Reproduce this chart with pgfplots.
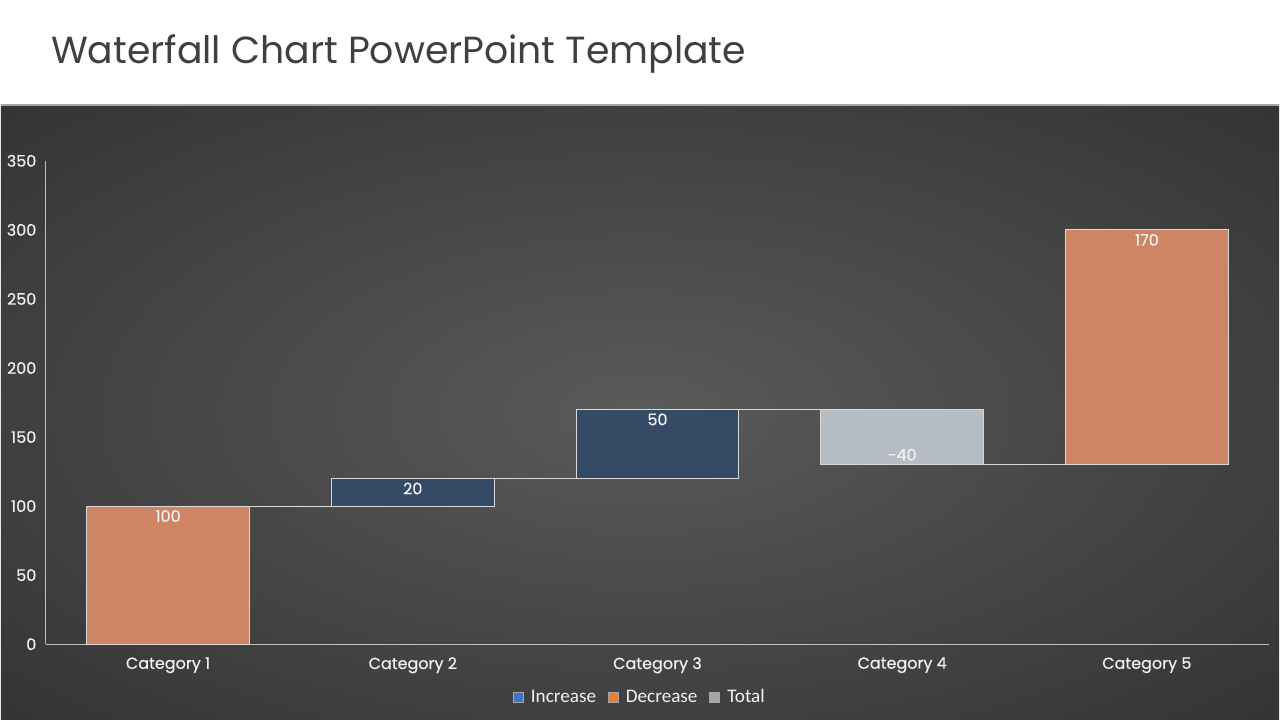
\documentclass[border=0pt]{standalone}
\usepackage{fontspec}
\usepackage{pgfplots}
\pgfplotsset{compat=1.18}
\setmainfont{Poppins}
\newfontfamily\medfont{Poppins}[FakeBold=0.35]
\newfontfamily\legendfont{Carlito}
\definecolor{incbar}{HTML}{354A65}
\definecolor{decbar}{HTML}{CD8566}
\definecolor{totbar}{HTML}{B5BCC3}
\definecolor{inclg}{HTML}{4472C4}
\definecolor{declg}{HTML}{ED7D31}
\definecolor{totlg}{HTML}{A5A5A5}
\definecolor{txt}{HTML}{F2F2F2}
\definecolor{axisgray}{HTML}{BFBFBF}
\definecolor{barline}{HTML}{D9D9D9}
\definecolor{titlegray}{HTML}{404040}
\definecolor{panelin}{HTML}{5A5A5A}
\definecolor{panelout}{HTML}{2A2A2A}
\pgfdeclareradialshading{panel}{\pgfpoint{0bp}{0bp}}{color(0bp)=(panelin); color(45bp)=(panelout); color(72bp)=(panelout)}
\begin{document}
\begin{tikzpicture}[x=0.5pt,y=0.5pt]
% slide background
\fill[white] (0,0) rectangle (1280,720);
\shade[shading=panel] (0,0) rectangle (1280,615);
\draw[gray!70, line width=0.8pt] (0,615) -- (1280,615);
\node[anchor=base west, text=titlegray, font=\fontsize{18.9}{23}\selectfont, inner sep=0pt] at (50,656) {Waterfall Chart PowerPoint Template};

% bars
\begin{axis}[
    at={(22.5pt,37.5pt)}, anchor=south west,
    scale only axis, width=612.5pt, height=242pt,
    xmin=-0.5, xmax=4.5, ymin=0, ymax=350,
    ybar stacked, bar width=81.5pt,
    axis x line=bottom, axis y line=left,
    axis line style={axisgray, line width=0.6pt, -},
    major tick length=0pt,
    xtick={0,1,2,3,4},
    xticklabels={Category 1,Category 2,Category 3,Category 4,Category 5},
    ytick={0,50,100,150,200,250,300,350},
    /pgf/number format/assume math mode=true,
    tick label style={text=txt, font=\medfont\fontsize{8}{9.5}\selectfont},
    yticklabel style={xshift=-1.2pt},
    xticklabel style={yshift=-3pt},
    legend style={at={(0.4865,-0.11)}, anchor=center, draw=none, fill=none,
        text=txt, font=\legendfont\fontsize{9.6}{11}\selectfont,
        /tikz/every odd column/.append style={column sep=1.5pt},
        /tikz/every even column/.append style={column sep=4pt}},
    legend columns=-1,
]
\addplot[forget plot, draw=none, fill=none] coordinates {(0,0) (1,100) (2,120) (3,130) (4,130)};
\addplot[forget plot, fill=incbar, draw=barline, line width=0.5pt] coordinates {(0,0) (1,20) (2,50) (3,0) (4,0)};
\addplot[forget plot, fill=decbar, draw=barline, line width=0.5pt] coordinates {(0,100) (1,0) (2,0) (3,0) (4,170)};
\addplot[forget plot, fill=totbar, draw=barline, line width=0.5pt] coordinates {(0,0) (1,0) (2,0) (3,40) (4,0)};

\addlegendimage{legend image code/.code={\draw[fill=inclg, draw=gray!70, line width=0.4pt] (0pt,-2.5pt) rectangle (5pt,2.5pt);}}
\addlegendentry{Increase}
\addlegendimage{legend image code/.code={\draw[fill=declg, draw=gray!70, line width=0.4pt] (0pt,-2.5pt) rectangle (5pt,2.5pt);}}
\addlegendentry{Decrease}
\addlegendimage{legend image code/.code={\draw[fill=totlg, draw=gray!70, line width=0.4pt] (0pt,-2.5pt) rectangle (5pt,2.5pt);}}
\addlegendentry{Total}
\end{axis}

% connectors and value labels
\begin{axis}[
    at={(22.5pt,37.5pt)}, anchor=south west,
    scale only axis, width=612.5pt, height=242pt,
    xmin=-0.5, xmax=4.5, ymin=0, ymax=350,
    hide axis, clip=false,
]
\addplot[barline, line width=0.5pt, no markers] coordinates {(0.333,100) (0.667,100)};
\addplot[barline, line width=0.5pt, no markers] coordinates {(1.333,120) (1.667,120)};
\addplot[barline, line width=0.5pt, no markers] coordinates {(2.333,170) (2.667,170)};
\addplot[barline, line width=0.5pt, no markers] coordinates {(3.333,130) (3.667,130)};

\addplot[draw=none, no markers, nodes near coords, point meta=explicit symbolic,
    every node near coord/.style={anchor=center, yshift=-5pt, text=txt, font=\medfont\fontsize{8}{9.5}\selectfont}]
    coordinates {(0,100) [100] (1,120) [20] (2,170) [50] (4,300) [170]};
\addplot[draw=none, no markers, nodes near coords, point meta=explicit symbolic,
    every node near coord/.style={anchor=center, yshift=5pt, text=txt, font=\medfont\fontsize{8}{9.5}\selectfont}]
    coordinates {(3,130) [-40]};
\end{axis}
\end{tikzpicture}
\end{document}
